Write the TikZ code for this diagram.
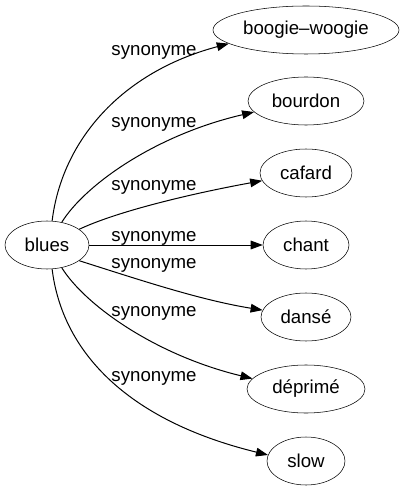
\documentclass[tikz,border=0pt]{standalone}
\usepackage{fontspec}
\setmainfont{Liberation Sans}
\usetikzlibrary{shapes.geometric, arrows.meta}

\begin{document}
\begin{tikzpicture}[x=0.75pt, y=-0.75pt]

\tikzset{vertex/.style = {shape=ellipse,draw,inner sep=0pt,minimum height=36pt,font=\fontsize{14}{16}\selectfont}}
\tikzset{edge/.style = {-{Triangle[length=9pt,width=6.5pt]},line width=0.75pt}}
\tikzset{lbl/.style = {anchor=base,inner sep=0pt,font=\fontsize{14}{16}\selectfont}}
\useasboundingbox (0,0) rectangle (403,491);
%verticies
\node[vertex, minimum width=63pt] (blues) at (47,245) {blues};
\node[vertex, minimum width=139.5pt] (boogie) at (306,30) {boogie–woogie};
\node[vertex, minimum width=87pt] (bourdon) at (306,101) {bourdon};
\node[vertex, minimum width=69pt] (cafard) at (306,173) {cafard};
\node[vertex, minimum width=64.5pt] (chant) at (306,245) {chant};
\node[vertex, minimum width=67.5pt] (danse) at (306,317) {dansé};
\node[vertex, minimum width=88.5pt] (deprime) at (306,389) {déprimé};
\node[vertex, minimum width=58.5pt] (slow) at (306,461) {slow};
%edges
\draw [edge] (blues.78) .. controls (62,140) and (122,72) .. (boogie.190);
\draw [edge] (blues.57) .. controls (85,185) and (155,135) .. (bourdon.192);
\draw [edge] (blues.26) .. controls (120,210) and (200,192) .. (cafard.190);
\draw [edge] (blues) -- (chant);
\draw [edge] (blues.334) .. controls (140,280) and (200,300) .. (danse.171);
\draw [edge] (blues.303) .. controls (85,305) and (155,355) .. (deprime.169);
\draw [edge] (blues.282) .. controls (62,350) and (125,420) .. (slow.171);
%labels
\node[lbl] (s1) at (154,56) {synonyme};
\node[lbl] (s2) at (154,128) {synonyme};
\node[lbl] (s3) at (154,191) {synonyme};
\node[lbl] (s4) at (154,241) {synonyme};
\node[lbl] (s5) at (154,268) {synonyme};
\node[lbl] (s6) at (154,316) {synonyme};
\node[lbl] (s7) at (154,381) {synonyme};

\end{tikzpicture}
\end{document}
